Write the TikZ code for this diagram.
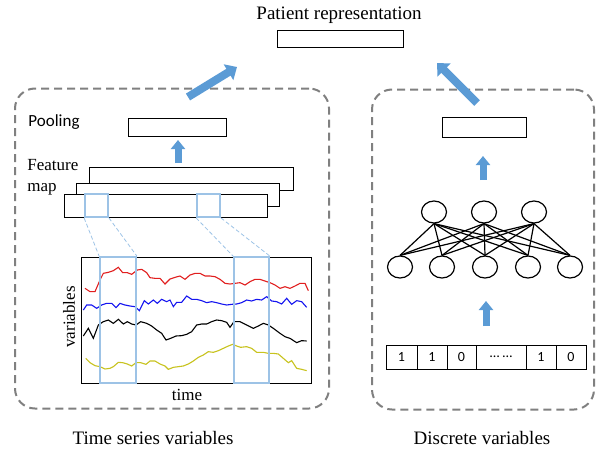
\documentclass[tikz,border=0pt]{standalone}
\usepackage{fontspec}
\setmainfont{Liberation Serif}
\newfontfamily\calibfont{Carlito}
\usepackage{tikz}
\usetikzlibrary{shapes.geometric,arrows.meta,positioning}

\definecolor{arrowblue}{RGB}{91,155,213}
\definecolor{winblue}{RGB}{157,195,230}
\definecolor{panelgray}{RGB}{128,128,128}
\definecolor{curvered}{RGB}{225,30,30}
\definecolor{curveblue}{RGB}{20,20,240}
\definecolor{curveyellow}{RGB}{200,195,30}

\tikzset{
	lbl/.style={inner sep=0pt, font=\fontsize{9.5pt}{11pt}\selectfont},
	smalllbl/.style={inner sep=0pt, font=\fontsize{8.5pt}{10.5pt}\selectfont},
	panel/.style={draw=panelgray, line width=1pt, dash pattern=on 4pt off 2.5pt, rounded corners=10pt, minimum height=160pt},
	box/.style={draw, line width=0.5pt, fill=white, minimum height=11.5pt, inner sep=0pt},
	window/.style={draw=winblue, line width=0.9pt, inner sep=0pt},
	link/.style={draw=winblue, line width=0.4pt, dash pattern=on 2pt off 1.2pt},
	bigarrow/.style={draw=arrowblue, line width=4pt, -{Triangle[length=5pt,width=9pt]}},
	uparrow/.style={draw=arrowblue, line width=3.5pt, -{Triangle[length=4.5pt,width=7pt]}},
	neuron/.style={draw, shape=ellipse, line width=0.6pt, minimum width=12.5pt, minimum height=11pt, inner sep=0pt},
	cell/.style={draw, line width=0.5pt, minimum height=12pt, inner sep=0pt, font=\calibfont\fontsize{7pt}{8pt}\selectfont},
	series/.style={line width=0.55pt, mark=square*, mark size=0.75pt}
}

\begin{document}
\begin{tikzpicture}[x=0.5pt, y=-0.5pt]
	\useasboundingbox (0,0) rectangle (597,449);

	% top
	\node[lbl] (title) at (339,15) {Patient representation};
	\node[box, minimum width=63pt, minimum height=8.5pt] (repr) at (340,39.5) {};

	% panels
	\node[panel, minimum width=157pt] (leftpanel) at (172,248.5) {};
	\node[panel, minimum width=111pt] (rightpanel) at (483,249.5) {};
	\node[lbl] (leftname) at (153,438) {Time series variables};
	\node[lbl] (rightname) at (482,438) {Discrete variables};

	\coordinate (ltail) at (188,97);
	\coordinate (lhead) at (237,67);
	\coordinate (rtail) at (477,103);
	\coordinate (rhead) at (437,63);
	\path[bigarrow] (ltail) -- (lhead);
	\path[bigarrow] (rtail) -- (rhead);

	% time series side
	\node[inner sep=0pt, font=\calibfont\fontsize{8.5pt}{10pt}\selectfont] (poollabel) at (54,122) {Pooling};
	\node[box, minimum width=49pt, minimum height=9pt] (pool) at (177,127) {};
	\coordinate (pooltail) at (178,163);
	\coordinate (poolhead) at (178,140);
	\path[uparrow] (pooltail) -- (poolhead);

	\node[smalllbl, anchor=west, align=left] (featlabel) at (27,177.5) {Feature\\map};
	\node[box, minimum width=102pt] (fm3) at (191,178.5) {};
	\node[box, minimum width=101.5pt] (fm2) at (177.5,194.5) {};
	\node[box, minimum width=101.5pt] (fm1) at (165.5,205.5) {};
	\node[window, minimum width=11.5pt, minimum height=11.5pt] (win1) at (96.5,205.5) {};
	\node[window, minimum width=11.5pt, minimum height=11.5pt] (win2) at (208.5,205.5) {};

	\node[box, minimum width=115pt, minimum height=63pt] (plot) at (196,320) {};
	\begin{scope}[shift={(50,240)}, scale=1/3]
		\draw[series, curvered] plot coordinates {(105,145) (120,155) (135,155) (150,120) (160,100) (175,97) (190,92) (205,82) (218,98) (232,98) (245,103) (262,90) (275,88) (290,98) (300,113) (315,115) (330,115) (345,132) (360,117) (375,112) (390,108) (405,118) (420,105) (435,100) (450,100) (465,108) (480,108) (495,110) (510,118) (525,130) (540,132) (555,130) (570,128) (585,135) (600,125) (615,118) (630,118) (645,123) (660,128) (675,135) (690,145) (705,140) (720,145) (735,138) (750,130) (765,130) (775,152)};
		\draw[series, curveblue] plot coordinates {(100,210) (110,195) (125,195) (140,205) (155,195) (170,190) (185,190) (198,203) (210,190) (225,195) (240,198) (255,200) (268,212) (283,182) (295,192) (310,180) (322,190) (335,178) (350,185) (360,180) (370,200) (380,187) (395,187) (410,168) (425,178) (440,178) (455,182) (470,188) (485,185) (500,188) (515,192) (530,195) (545,193) (560,192) (575,188) (590,180) (605,183) (620,178) (635,180) (650,170) (665,183) (680,185) (695,192) (710,175) (725,193) (740,182) (755,185) (770,202)};
		\draw[series, black] plot coordinates {(100,288) (115,265) (130,295) (145,255) (160,245) (175,240) (190,250) (205,238) (220,252) (232,245) (245,252) (258,255) (272,245) (290,250) (305,258) (320,270) (335,280) (348,300) (362,295) (378,288) (395,287) (410,283) (425,275) (440,255) (455,252) (470,252) (485,245) (500,240) (515,242) (530,247) (540,262) (552,245) (570,245) (590,255) (610,265) (625,258) (640,250) (655,255) (670,265) (690,280) (705,290) (720,295) (740,308) (755,302) (770,303)};
		\draw[series, curveyellow] plot coordinates {(107,355) (120,368) (135,377) (150,380) (165,387) (180,385) (190,380) (205,367) (218,368) (232,372) (245,378) (258,368) (272,368) (288,373) (300,363) (315,363) (330,372) (345,378) (355,388) (370,382) (385,380) (400,378) (415,372) (430,363) (445,352) (460,345) (475,335) (490,337) (505,332) (520,325) (535,318) (548,313) (560,318) (572,322) (590,320) (605,325) (620,337) (640,337) (655,340) (670,340) (685,342) (700,355) (715,368) (725,362) (740,385) (755,388) (770,392)};
	\end{scope}
	\node[window, minimum width=18pt, minimum height=63pt] (pwin1) at (118,320) {};
	\node[window, minimum width=17.5pt, minimum height=63pt] (pwin2) at (251.5,320) {};
	\node[smalllbl, rotate=90] (varlabel) at (69,317) {variables};
	\node[smalllbl] (timelabel) at (187,395) {time};

	\path[link] (win1.south west) -- (pwin1.north west);
	\path[link] (win1.south east) -- (pwin1.north east);
	\path[link] (win2.south west) -- (pwin2.north west);
	\path[link] (win2.south east) -- (pwin2.north east);

	% discrete side
	\node[box, minimum width=42pt, minimum height=10pt] (dense) at (484,127) {};
	\coordinate (densetail) at (483,180);
	\coordinate (densehead) at (483,156);
	\path[uparrow] (densetail) -- (densehead);

	\node[neuron] (h1) at (434,212) {};
	\node[neuron] (h2) at (484,212) {};
	\node[neuron] (h3) at (534,212) {};
	\node[neuron] (i1) at (400,267) {};
	\node[neuron] (i2) at (442,267) {};
	\node[neuron] (i3) at (485,267) {};
	\node[neuron] (i4) at (528,267) {};
	\node[neuron] (i5) at (570,267) {};
	\path[line width=0.6pt] (h1.south) edge (i1.north) edge (i2.north) edge (i3.north) edge (i4.north) edge (i5.north);
	\path[line width=0.6pt] (h2.south) edge (i1.north) edge (i2.north) edge (i3.north) edge (i4.north) edge (i5.north);
	\path[line width=0.6pt] (h3.south) edge (i1.north) edge (i2.north) edge (i3.north) edge (i4.north) edge (i5.north);

	\coordinate (celltail) at (486,326);
	\coordinate (cellhead) at (486,301);
	\path[uparrow] (celltail) -- (cellhead);

	\node[cell, minimum width=15.5pt] (c1) at (401.5,357) {1};
	\node[cell, minimum width=15pt] (c2) at (432,357) {1};
	\node[cell, minimum width=14.5pt] (c3) at (461.5,357) {0};
	\node[cell, minimum width=25pt] (c4) at (501,357) {\dots\ \dots};
	\node[cell, minimum width=15pt] (c5) at (541,357) {1};
	\node[cell, minimum width=15pt] (c6) at (571,357) {0};
\end{tikzpicture}
\end{document}
